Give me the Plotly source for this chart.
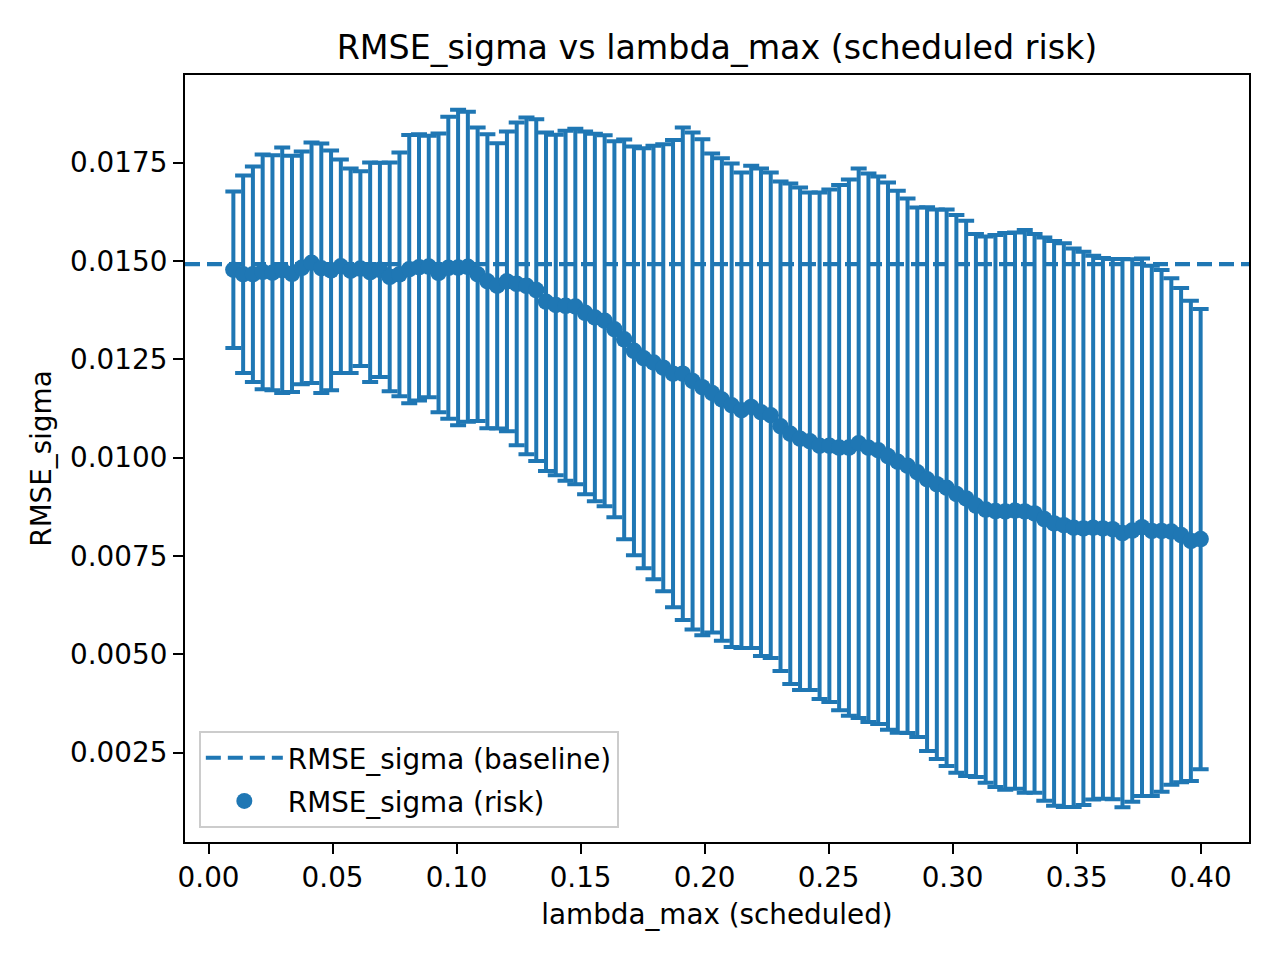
import numpy as np
import plotly.graph_objects as go

# ---- data ----
lambda_max = np.linspace(0.01, 0.40, 100).tolist()

rmse_mean = [
    0.014779, 0.014665, 0.014665, 0.014726, 0.014703, 0.014766, 0.014675, 0.014827, 0.014957, 0.014817,
    0.014764, 0.014868, 0.014754, 0.014809, 0.014715, 0.014776, 0.014599, 0.014662, 0.014792, 0.014842,
    0.014860, 0.014700, 0.014827, 0.014835, 0.014853, 0.014665, 0.014487, 0.014372, 0.014484, 0.014421,
    0.014370, 0.014263, 0.013966, 0.013882, 0.013862, 0.013844, 0.013684, 0.013565, 0.013483, 0.013267,
    0.013011, 0.012718, 0.012530, 0.012421, 0.012289, 0.012137, 0.012137, 0.011951, 0.011794, 0.011646,
    0.011481, 0.011334, 0.011207, 0.011291, 0.011156, 0.011080, 0.010800, 0.010610, 0.010483, 0.010419,
    0.010305, 0.010305, 0.010257, 0.010257, 0.010368, 0.010254, 0.010190, 0.010041, 0.009898, 0.009797,
    0.009631, 0.009454, 0.009327, 0.009238, 0.009080, 0.008966, 0.008783, 0.008681, 0.008643, 0.008636,
    0.008656, 0.008636, 0.008585, 0.008440, 0.008331, 0.008285, 0.008221, 0.008204, 0.008221, 0.008204,
    0.008183, 0.008084, 0.008148, 0.008234, 0.008140, 0.008140, 0.008122, 0.008033, 0.007886, 0.007932,
]

rmse_std = [
    0.001992, 0.002513, 0.002741, 0.002985, 0.002990, 0.003123, 0.003001, 0.002960, 0.003059, 0.003173,
    0.003049, 0.002716, 0.002602, 0.002477, 0.002792, 0.002721, 0.002909, 0.003100, 0.003410, 0.003384,
    0.003323, 0.003544, 0.003839, 0.004009, 0.003941, 0.003732, 0.003740, 0.003626, 0.003811, 0.004103,
    0.004281, 0.004345, 0.004304, 0.004327, 0.004449, 0.004517, 0.004611, 0.004670, 0.004718, 0.004782,
    0.005081, 0.005196, 0.005340, 0.005508, 0.005683, 0.005938, 0.006260, 0.006319, 0.006306, 0.006090,
    0.006136, 0.006148, 0.006047, 0.006131, 0.006199, 0.006174, 0.006225, 0.006364, 0.006390, 0.006326,
    0.006441, 0.006517, 0.006674, 0.006819, 0.006987, 0.006974, 0.006961, 0.006959, 0.006888, 0.006796,
    0.006733, 0.006911, 0.006987, 0.007076, 0.007089, 0.007058, 0.006903, 0.006946, 0.007017, 0.007076,
    0.007073, 0.007152, 0.007101, 0.007162, 0.007177, 0.007165, 0.007101, 0.007033, 0.006913, 0.006873,
    0.006868, 0.006967, 0.006895, 0.006834, 0.006740, 0.006631, 0.006438, 0.006281, 0.006105, 0.005849,
]

baseline_value = 0.01492

x_ticks = [0.00, 0.05, 0.10, 0.15, 0.20, 0.25, 0.30, 0.35, 0.40]
y_ticks = [0.0025, 0.0050, 0.0075, 0.0100, 0.0125, 0.0150, 0.0175]

# ---- axis ranges like matplotlib auto-margins (5 %) ----
xmin, xmax = min(lambda_max), max(lambda_max)
xpad = 0.05 * (xmax - xmin)
x_range = [xmin - xpad, xmax + xpad]
lows = [m - s for m, s in zip(rmse_mean, rmse_std)]
highs = [m + s for m, s in zip(rmse_mean, rmse_std)]
ylo, yhi = min(lows), max(highs)
ypad = 0.05 * (yhi - ylo)
y_range = [ylo - ypad, yhi + ypad]

C0 = "#1f77b4"
FONT = "DejaVu Sans"

# page body has an 8px margin; size the figure so the plot lands where the reference has it
W, H = 1264, 944

fig = go.Figure()

# baseline (dashed horizontal line across the full axis)
fig.add_trace(go.Scatter(
    x=x_range, y=[baseline_value, baseline_value],
    mode="lines", name="RMSE_sigma (baseline)", legendgroup="base",
    line=dict(color=C0, width=4.2, dash="15px,7px"),
    hoverinfo="skip",
))

# risk series with error bars
fig.add_trace(go.Scatter(
    x=lambda_max, y=rmse_mean,
    mode="markers", name="RMSE_sigma (risk)", legendgroup="risk",
    marker=dict(color=C0, size=16.5, line=dict(width=0)),
    error_y=dict(type="data", array=rmse_std, symmetric=True,
                 color=C0, thickness=4, width=8),
))

fig.update_layout(
    width=W, height=H,
    margin=dict(l=177, r=23, t=67, b=110),
    paper_bgcolor="white", plot_bgcolor="white",
    font=dict(family=FONT, size=27.8, color="black"),
    title=dict(text="RMSE_sigma vs lambda_max (scheduled risk)",
               x=0.5, xref="paper", xanchor="center",
               y=1 - 39 / H, yref="container", yanchor="middle",
               font=dict(family=FONT, size=33.3, color="black")),
    showlegend=True,
    legend=dict(x=0.013, y=0.018, xanchor="left", yanchor="bottom",
                bgcolor="rgba(255,255,255,0.8)", bordercolor="#cccccc",
                borderwidth=2, font=dict(family=FONT, size=27.8, color="black"),
                itemwidth=77, tracegroupgap=4),
)

fig.update_xaxes(
    range=x_range, tickmode="array", tickvals=x_ticks, tickformat=".2f",
    showgrid=False, zeroline=False,
    showline=True, linecolor="black", linewidth=2.2, mirror=True,
    ticks="outside", ticklen=10, tickwidth=2.2, tickcolor="black",
    title=dict(text="lambda_max (scheduled)", standoff=11,
               font=dict(family=FONT, size=27.8, color="black")),
)
fig.update_yaxes(
    range=y_range, tickmode="array", tickvals=y_ticks, tickformat=".4f",
    showgrid=False, zeroline=False,
    showline=True, linecolor="black", linewidth=2.2, mirror=True,
    ticks="outside", ticklen=10, tickwidth=2.2, tickcolor="black",
    title=dict(text="RMSE_sigma", standoff=10,
               font=dict(family=FONT, size=27.8, color="black")),
)

fig.write_html("out.html")
